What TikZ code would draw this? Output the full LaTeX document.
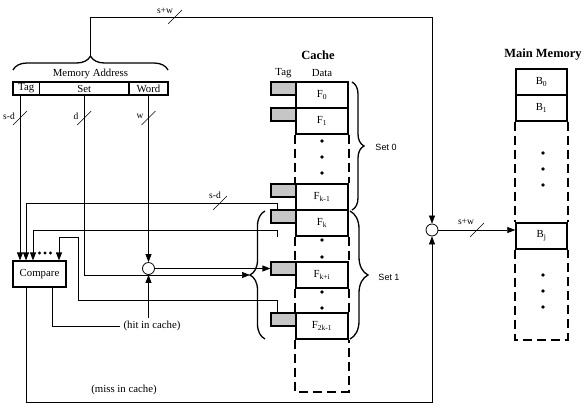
\documentclass[tikz,border=0pt]{standalone}
\usepackage{fontspec}
\setmainfont{Liberation Serif}
\setsansfont{Liberation Sans}
\usetikzlibrary{arrows.meta,decorations.pathreplacing}

\tikzset{
  field/.style={draw, line width=1.2pt, minimum height=13pt, inner sep=0pt},
  databox/.style={draw, line width=1.4pt, minimum width=52pt, minimum height=26pt, inner sep=0pt},
  tagbox/.style={draw, line width=1.2pt, fill=gray!45, minimum width=25pt, minimum height=13pt, inner sep=0pt},
  membox/.style={databox, minimum width=51pt},
  gate/.style={circle, draw, line width=0.8pt, fill=white, minimum size=12pt, inner sep=0pt},
  wire/.style={line width=0.7pt},
  dashedge/.style={line width=2pt, dash pattern=on 9pt off 5pt},
  heading/.style={font=\bfseries\fontsize{12.5}{14}\selectfont},
  buslbl/.style={font=\fontsize{9.5}{11}\selectfont, inner sep=1pt},
  setlbl/.style={font=\sffamily\fontsize{9}{10}\selectfont},
  brc/.style={decorate, decoration={brace, amplitude=#1}, line width=1.3pt},
  buswidth/.pic={\draw[line width=0.6pt] (-7,7) -- (7,-7);}
}

\begin{document}
\begin{tikzpicture}[x=1pt, y=-1pt, >={Triangle[length=8pt,width=6pt]},
    font=\fontsize{10.8}{12}\selectfont]
  \useasboundingbox (0,0) rectangle (586,408);

  %Memory address
  \node[field, minimum width=26.5pt] (tagf) at (26.25,88.5) {Tag};
  \node[field, minimum width=89.5pt] (setf) at (84.25,88.5) {Set};
  \node[field, minimum width=39pt] (wordf) at (148.5,88.5) {Word};
  \node (maddr) at (90.5,74) {Memory Address};
  \draw[brc=14pt] (13,70) -- (168,70);
  \coordinate (atip) at (90.5,56);

  %Compare and the two gates
  \node[draw, line width=1.2pt, minimum width=53pt, minimum height=26pt] (cmp) at (39.5,274) {Compare};
  \node[gate] (g1) at (148.5,268.5) {};
  \node[gate] (g2) at (432,230) {};
  \node (hit) at (152,326) {(hit in cache)};
  \node (miss) at (124,390) {(miss in cache)};

  %Cache
  \node[heading] (ctitle) at (318,55) {Cache};
  \node (ctag) at (283.5,73) {Tag};
  \node (cdata) at (322,73) {Data};
  \foreach \y/\txt/\nm in {82/{F\textsubscript{0}}/f0, 108/{F\textsubscript{1}}/f1,
      184/{F\textsubscript{k-1}}/fko, 210/{F\textsubscript{k}}/fk,
      262/{F\textsubscript{k+i}}/fki, 313/{F\textsubscript{2k-1}}/ftk}{
    \node[databox] (\nm) at (322,\y+13) {\txt};
    \node[tagbox] (t\nm) at (283.5,\y+6.5) {};
  }
  \draw[dashedge] (f1.south west) -- (fko.north west);
  \draw[dashedge] (f1.south east) -- (fko.north east);
  \draw[dashedge] (fk.south west) -- (fki.north west);
  \draw[dashedge] (fk.south east) -- (fki.north east);
  \draw[dashedge] (fki.south west) -- (ftk.north west);
  \draw[dashedge] (fki.south east) -- (ftk.north east);
  \draw[dashedge] (ftk.south west) -- ++(0,52) -| (ftk.south east);
  \foreach \y in {141,157,173,240,257,292,308}
    \fill (322,\y) circle (1.9pt);

  % Set braces
  \draw[brc=12pt] (352,82) -- (352,210);
  \draw[brc=18pt] (350,211) -- (350,339);
  \node[setlbl] (set0) at (386,147) {Set 0};
  \node[setlbl] (set1) at (389,277) {Set 1};
  \draw[brc=15pt] (265,339) -- (265,211);
  \coordinate (stip) at (250,275);

  %Main memory
  \node[heading] (mtitle) at (543,55) {Main Memory};
  \node[membox] (b0) at (541.5,82) {B\textsubscript{0}};
  \node[membox] (b1) at (541.5,108) {B\textsubscript{1}};
  \node[membox] (bj) at (541.5,236) {B\textsubscript{j}};
  \draw[dashedge] (b1.south west) -- (bj.north west);
  \draw[dashedge] (b1.south east) -- (bj.north east);
  \draw[dashedge] (bj.south west) -- ++(0,90) -| (bj.south east);
  \foreach \y in {153,169,185,275,291,307}
    \fill (543,\y) circle (1.9pt);

  % Connect the nodes
  \draw[wire,->] (atip) |- (g2.north |- 0,17) -- (g2.north);
  \draw[wire,->] (20,0 |- tagf.south) -- (20,0 |- cmp.north);
  \draw[wire,->] (setf.south) |- (stip);
  \draw[wire,->] (wordf.south) -- (g1.north);
  \draw[wire,->] (tfk.north -| 277,0) |- (26,203) -- (26,0 |- cmp.north);
  \draw[wire,->] (fk.south -| 277,0) |- (33,230) -- (33,0 |- cmp.north);
  \draw[wire,->] (tftk.north -| 277,0) |- (78,300) |- (59,237) -- (59,0 |- cmp.north);
  \foreach \x in {39.5,45,50.5}
    \fill (\x,253) circle (1.6pt);
  \draw[wire] (cmp.south -| 52,0) |- (hit.west);
  \draw[wire,->] (g1 |- hit.north) -- (g1.south);
  \draw[wire,->] (g1.east) -- (tfki.west);
  \draw[wire,->] (cmp.south -| 26,0) -- (26,402) -| (g2.south);
  \draw[wire,->] (g2.east) -- (g2.east -| bj.west);

  % Bus widths
  \pic at (20,118) {buswidth};   \node[buslbl] (wsd) at (9,116) {s-d};
  \pic at (84.25,118) {buswidth}; \node[buslbl] (wd) at (76,116) {d};
  \pic at (148.5,118) {buswidth}; \node[buslbl] (ww) at (140,116) {w};
  \pic at (175,17) {buswidth};   \node[buslbl] (wsw) at (165,11) {s+w};
  \pic at (220,203) {buswidth};  \node[buslbl] (wsdb) at (215,195) {s-d};
  \pic at (477,230) {buswidth};  \node[buslbl] (wswb) at (466,222) {s+w};
\end{tikzpicture}
\end{document}
